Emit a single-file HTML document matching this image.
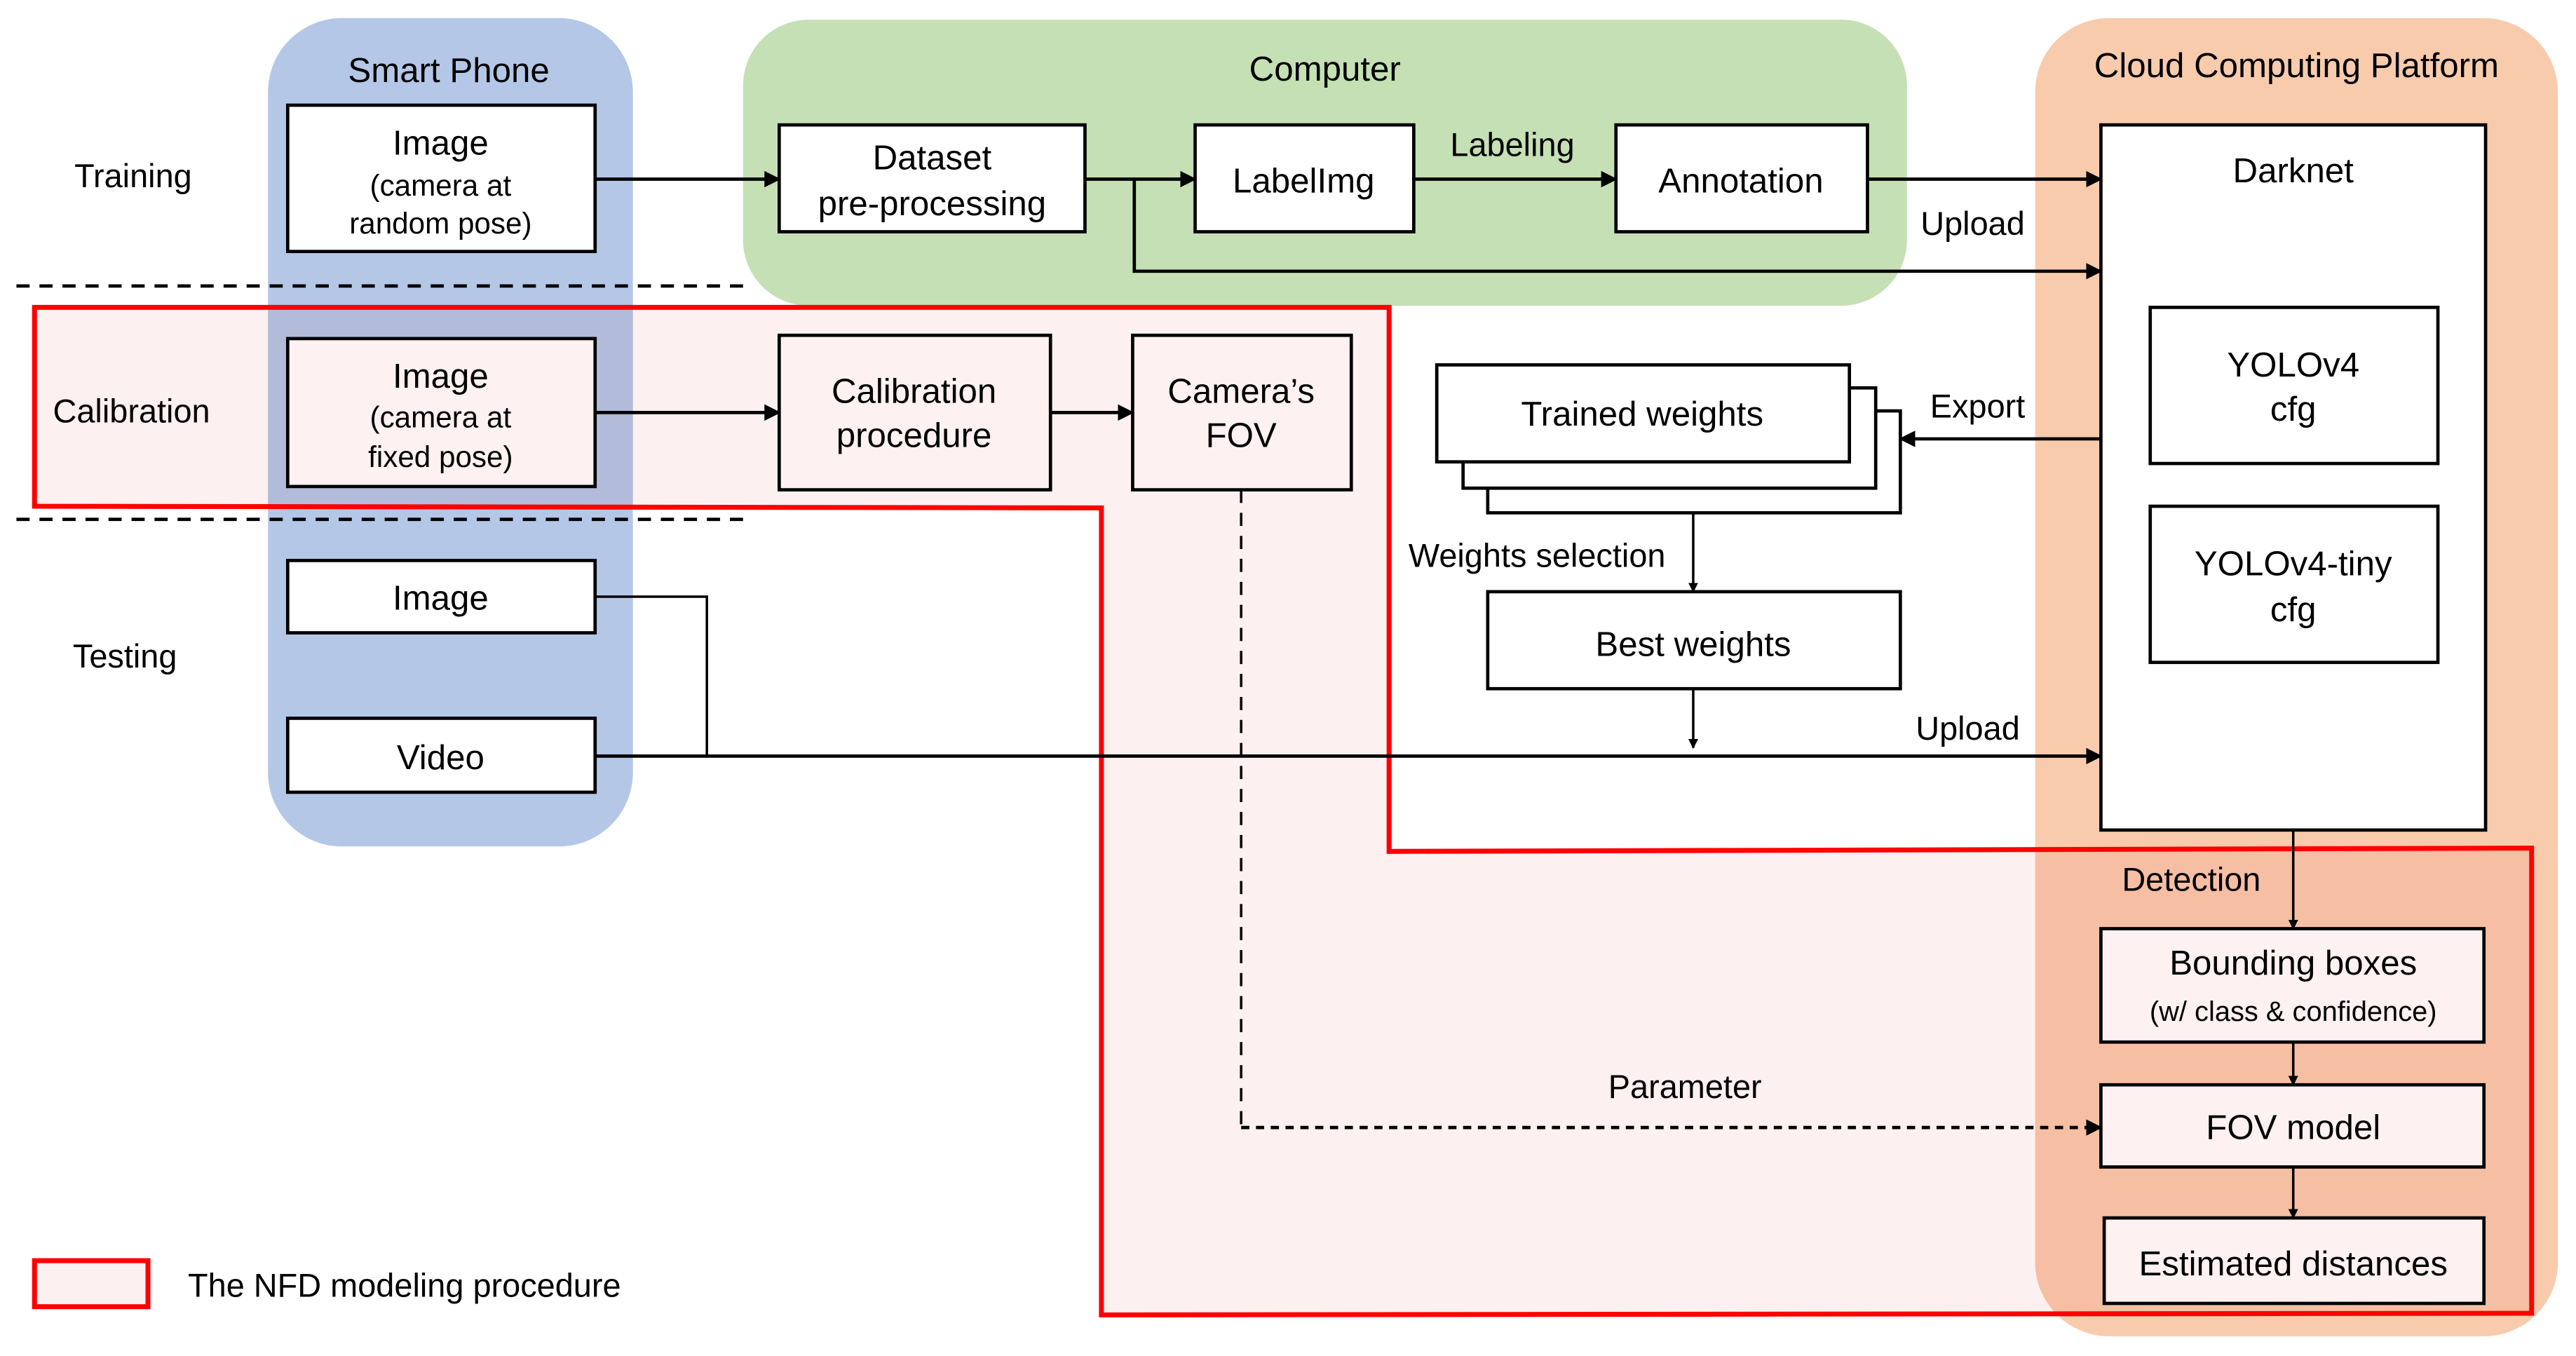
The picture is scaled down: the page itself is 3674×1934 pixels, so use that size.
<!DOCTYPE html>
<html><head><meta charset="utf-8"><style>html,body{margin:0;padding:0;background:#fff}svg{display:block}</style></head>
<body>
<svg width="3674" height="1934" viewBox="0 0 1567 825" preserveAspectRatio="none" xmlns="http://www.w3.org/2000/svg" font-family="Liberation Sans, Arial, sans-serif">
<defs>
<marker id="a" viewBox="0 0 10 10" refX="9" refY="5" markerWidth="6" markerHeight="6" orient="auto" markerUnits="userSpaceOnUse"><path d="M0,0L10,5L0,10z" fill="#000"/></marker>
<marker id="b" viewBox="0 0 10 10" refX="9" refY="5" markerWidth="10" markerHeight="10" orient="auto" markerUnits="userSpaceOnUse"><path d="M0,0L10,5L0,10z" fill="#000"/></marker>
</defs>
<rect x="163" y="11" width="222" height="504" rx="45" fill="#b4c7e7"/>
<rect x="452" y="12" width="708" height="174" rx="40" fill="#c5e0b4"/>
<rect x="1238" y="11" width="318" height="802" rx="45" fill="#f8cbad"/>
<polygon points="21,187 845,187 845,518 1540,516 1540,799 670,800 670,309 21,308" fill="#fdf0f0" style="mix-blend-mode:multiply"/>
<polygon points="21,187 845,187 845,518 1540,516 1540,799 670,800 670,309 21,308" fill="none" stroke="#ff0000" stroke-width="3"/>
<line x1="10" y1="174" x2="455" y2="174" stroke="#000" stroke-width="2" stroke-dasharray="8,6"/>
<line x1="10" y1="316" x2="455" y2="316" stroke="#000" stroke-width="2" stroke-dasharray="8,6"/>
<g stroke="#000" stroke-width="2">
<rect x="175" y="64" width="187" height="89" fill="#fff"/>
<rect x="175" y="206" width="187" height="90" fill="#fdf1f1"/>
<rect x="175" y="341" width="187" height="44" fill="#fff"/>
<rect x="175" y="437" width="187" height="45" fill="#fff"/>
<rect x="474" y="76" width="186" height="65" fill="#fff"/>
<rect x="727" y="76" width="133" height="65" fill="#fff"/>
<rect x="983" y="76" width="153" height="65" fill="#fff"/>
<rect x="1278" y="76" width="234" height="429" fill="#fff"/>
<rect x="1308" y="187" width="175" height="95" fill="#fff"/>
<rect x="1308" y="308" width="175" height="95" fill="#fff"/>
<rect x="474" y="204" width="165" height="94" fill="#fdf1f1"/>
<rect x="689" y="204" width="133" height="94" fill="#fdf1f1"/>
<rect x="905" y="250" width="251" height="62" fill="#fff"/>
<rect x="890" y="236" width="251" height="61" fill="#fff"/>
<rect x="874" y="222" width="251" height="59" fill="#fff"/>
<rect x="905" y="360" width="251" height="59" fill="#fff"/>
<rect x="1278" y="565" width="233" height="69" fill="#fdf1f1"/>
<rect x="1278" y="660" width="233" height="50" fill="#fdf1f1"/>
<rect x="1280" y="741" width="231" height="52" fill="#fdf1f1"/>
</g>
<rect x="21" y="767" width="69" height="28" fill="#fdf0f0" stroke="#ff0000" stroke-width="3"/>
<g stroke="#000" stroke-width="2" fill="none">
<line x1="362" y1="109" x2="474" y2="109" marker-end="url(#b)"/>
<line x1="660" y1="109" x2="727" y2="109" marker-end="url(#b)"/>
<polyline points="690,109 690,165 1278,165" marker-end="url(#b)"/>
<line x1="860" y1="109" x2="983" y2="109" marker-end="url(#b)"/>
<line x1="1136" y1="109" x2="1278" y2="109" marker-end="url(#b)"/>
<line x1="362" y1="251" x2="474" y2="251" marker-end="url(#b)"/>
<line x1="639" y1="251" x2="689" y2="251" marker-end="url(#b)"/>
<line x1="1278" y1="267" x2="1156" y2="267" marker-end="url(#b)"/>
<polyline points="362,460 1278,460" marker-end="url(#b)"/>
</g>
<g stroke="#000" stroke-width="1.5" fill="none">
<line x1="1030" y1="312" x2="1030" y2="360" marker-end="url(#a)"/>
<line x1="1030" y1="419" x2="1030" y2="455" marker-end="url(#a)"/>
<polyline points="362,363 430,363 430,460"/>
<line x1="1395" y1="505" x2="1395" y2="565" marker-end="url(#a)"/>
<line x1="1395" y1="634" x2="1395" y2="660" marker-end="url(#a)"/>
<line x1="1395" y1="710" x2="1395" y2="741" marker-end="url(#a)"/>
<polyline points="755,298 755,686" stroke-dasharray="8,6"/>
</g>
<line x1="755" y1="686" x2="1278" y2="686" stroke="#000" stroke-width="2" stroke-dasharray="5,4" marker-end="url(#b)"/>
<g font-size="21" text-anchor="middle" fill="#000">
<text x="273" y="50">Smart Phone</text>
<text x="806" y="49">Computer</text>
<text x="1397" y="47">Cloud Computing Platform</text>
<text x="81" y="114" font-size="20">Training</text>
<text x="80" y="257" font-size="20">Calibration</text>
<text x="76" y="406" font-size="20">Testing</text>
<text x="268" y="94">Image</text>
<text x="268" y="119" font-size="18">(camera at</text>
<text x="268" y="142" font-size="18">random pose)</text>
<text x="268" y="236">Image</text>
<text x="268" y="260" font-size="18">(camera at</text>
<text x="268" y="284" font-size="18">fixed pose)</text>
<text x="268" y="371">Image</text>
<text x="268" y="468">Video</text>
<text x="567" y="103">Dataset</text>
<text x="567" y="131">pre-processing</text>
<text x="793" y="117">LabelImg</text>
<text x="920" y="95" font-size="20">Labeling</text>
<text x="1059" y="117">Annotation</text>
<text x="1200" y="143" font-size="20">Upload</text>
<text x="1395" y="111">Darknet</text>
<text x="1395" y="229">YOLOv4</text>
<text x="1395" y="256">cfg</text>
<text x="1395" y="350">YOLOv4-tiny</text>
<text x="1395" y="378">cfg</text>
<text x="556" y="245">Calibration</text>
<text x="556" y="272">procedure</text>
<text x="755" y="245">Camera’s</text>
<text x="755" y="272">FOV</text>
<text x="999" y="259">Trained weights</text>
<text x="1203" y="254" font-size="20">Export</text>
<text x="935" y="345" font-size="20">Weights selection</text>
<text x="1030" y="399">Best weights</text>
<text x="1197" y="450" font-size="20">Upload</text>
<text x="1333" y="542" font-size="20">Detection</text>
<text x="1395" y="593">Bounding boxes</text>
<text x="1395" y="621" font-size="17">(w/ class &amp; confidence)</text>
<text x="1025" y="668" font-size="20">Parameter</text>
<text x="1395" y="693">FOV model</text>
<text x="1395" y="776">Estimated distances</text>
<text x="246" y="789" font-size="20">The NFD modeling procedure</text>
</g>
</svg>
</body></html>
